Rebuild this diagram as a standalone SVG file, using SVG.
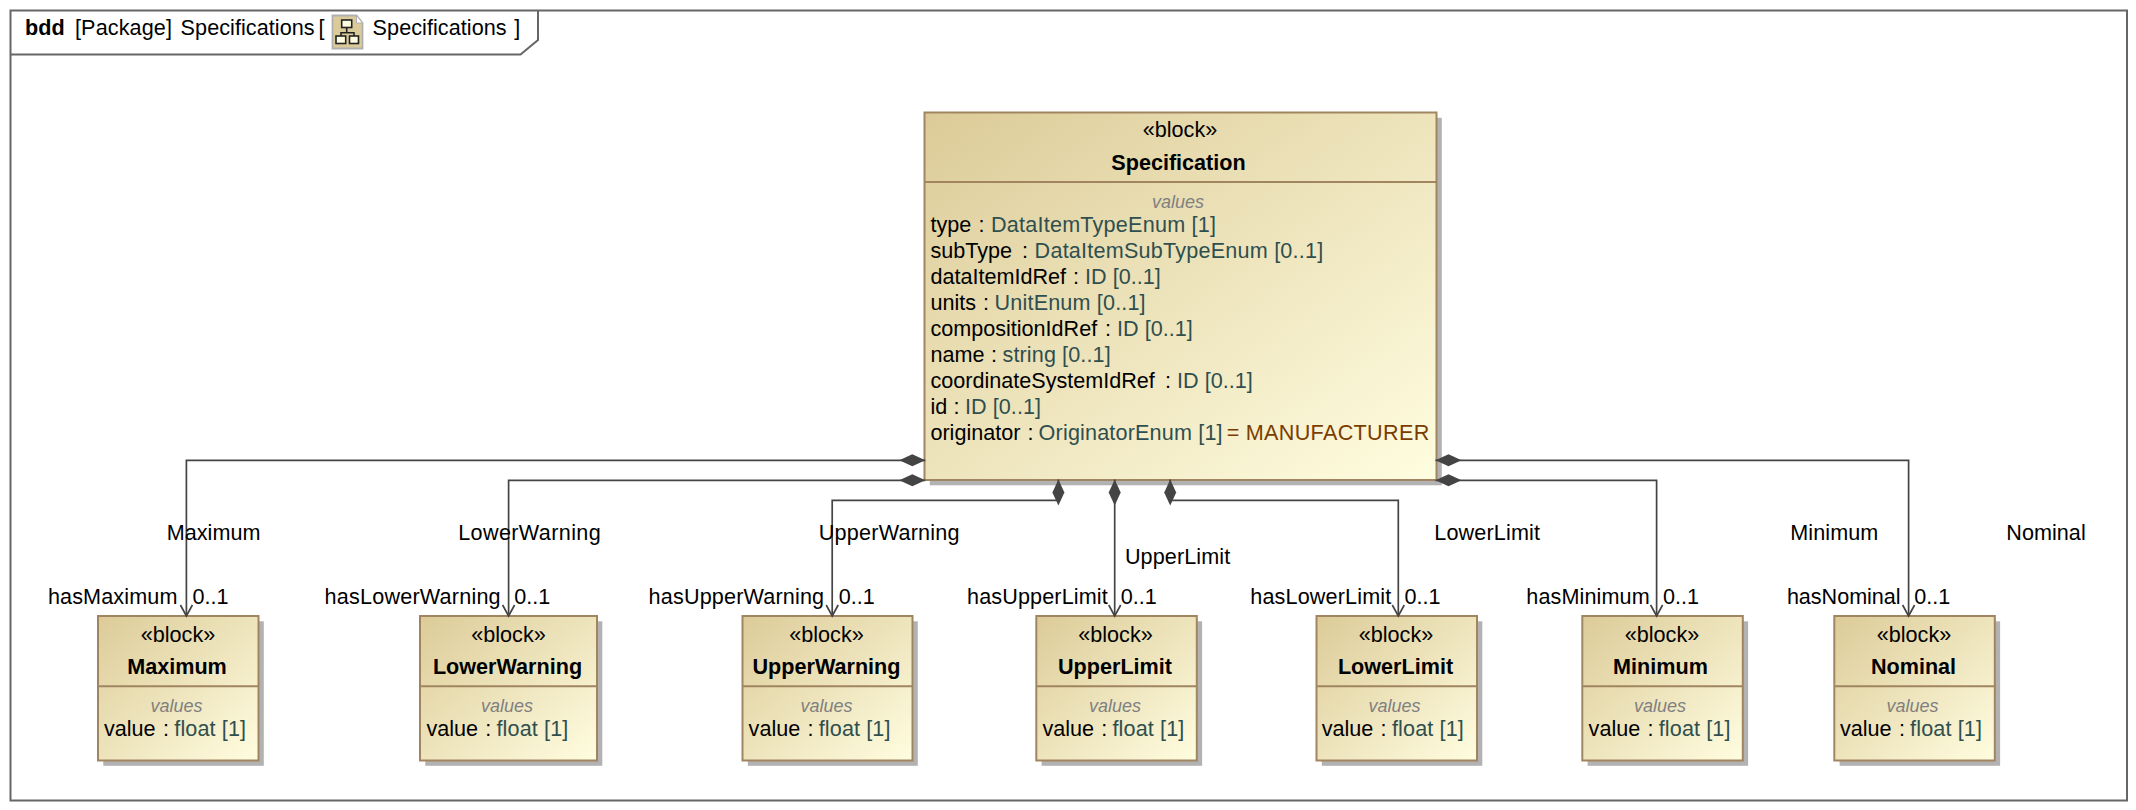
<svg xmlns="http://www.w3.org/2000/svg" width="2136" height="810" viewBox="0 0 2136 810">
<style>
text{font-family:"Liberation Sans",Arial,sans-serif;font-size:21.6px;fill:#000}
.b{font-weight:bold}
.m{text-anchor:middle}
.v{font-style:italic;font-size:18px;fill:#808080;text-anchor:middle}
.t{fill:#2f4f4f}
.i{fill:#7a3d00}
.fr{fill:none;stroke:#666;stroke-width:2}
.box{fill:url(#g);stroke:#a08560;stroke-width:2}
.sep{stroke:#a08560;stroke-width:2}
.sh{fill:#b2b2b2}
.c{fill:none;stroke:#444;stroke-width:1.700;marker-start:url(#dia);marker-end:url(#arr)}
.ic{fill:#fffde0;stroke:#222;stroke-width:1.600}
</style>
<defs>
<linearGradient id="g" x1="0" y1="0" x2="1" y2="1"><stop offset="0" stop-color="#dccb98"/><stop offset="1" stop-color="#fffde0"/></linearGradient>
<marker id="dia" markerUnits="userSpaceOnUse" viewBox="-1 -7 28 14" refX="0" refY="0" markerWidth="28" markerHeight="14" orient="auto"><path d="M0 0L13-6 26 0 13 6Z" fill="#444"/></marker>
<marker id="arr" markerUnits="userSpaceOnUse" viewBox="-12 -7 14 14" refX="0" refY="0" markerWidth="14" markerHeight="14" orient="auto"><path d="M-11-6L0 0-11 6" fill="none" stroke="#444" stroke-width="1.700"/></marker>
</defs>
<rect width="2136" height="810" fill="#fff"/>
<g id="frame">
<rect class="fr" x="10.500" y="10.500" width="2116.500" height="790"/>
<path class="fr" d="M10.500 54.500H520.500L538 40V10.500"/>
<g id="frame-icon">
<path d="M332.500 15.500H356.500L362.500 23V48.500H332.500Z" fill="#dccb9a" stroke="#b0b0b0" stroke-width="1.800"/>
<path d="M356.500 15.500V23H362.500Z" fill="#fff" stroke="#b0b0b0"/>
<path d="M346.700 27.500V32.700M341 36V32.700H354V36" fill="none" stroke="#222" stroke-width="1.600"/>
<rect class="ic" x="341.700" y="20" width="10" height="7.500"/>
<rect class="ic" x="336" y="36" width="9.700" height="7.500"/>
<rect class="ic" x="349.500" y="36" width="9" height="7.500"/>
</g>
<text class="b" x="25" y="35">bdd</text>
<text x="75" y="35" textLength="97">[Package]</text>
<text x="180.600" y="35" textLength="134">Specifications</text>
<text x="318.400" y="35">[</text>
<text x="372.600" y="35" textLength="134">Specifications</text>
<text x="514.300" y="35">]</text>
</g>
<g id="Specification">
<rect class="sh" x="929.800" y="117.800" width="512" height="367.500"/>
<rect class="box" x="924.500" y="112.500" width="512" height="367.500"/>
<line class="sep" x1="924.500" y1="182" x2="1436.500" y2="182"/>
<text class="m" x="1180" y="137">«block»</text>
<text class="m b" x="1178.500" y="169.500">Specification</text>
<text class="v" x="1178" y="208">values</text>
<text x="930.400" y="231.700">type<tspan x="978.600">:</tspan><tspan class="t" x="991" textLength="225">DataItemTypeEnum [1]</tspan></text>
<text x="930.400" y="257.700">subType<tspan x="1022">:</tspan><tspan class="t" x="1034.600" textLength="288.600">DataItemSubTypeEnum [0..1]</tspan></text>
<text x="930.400" y="283.700">dataItemIdRef<tspan x="1073">:</tspan><tspan class="t" x="1085" textLength="75.700">ID [0..1]</tspan></text>
<text x="930.400" y="309.700">units<tspan x="983">:</tspan><tspan class="t" x="994.600" textLength="151">UnitEnum [0..1]</tspan></text>
<text x="930.400" y="335.700">compositionIdRef<tspan x="1105">:</tspan><tspan class="t" x="1117" textLength="75.700">ID [0..1]</tspan></text>
<text x="930.400" y="361.700">name<tspan x="991">:</tspan><tspan class="t" x="1002.500" textLength="108.200">string [0..1]</tspan></text>
<text x="930.400" y="387.700">coordinateSystemIdRef<tspan x="1165">:</tspan><tspan class="t" x="1177" textLength="75.700">ID [0..1]</tspan></text>
<text x="930.400" y="413.700">id<tspan x="953.600">:</tspan><tspan class="t" x="965" textLength="76">ID [0..1]</tspan></text>
<text x="930.400" y="439.700">originator<tspan x="1027.500">:</tspan><tspan class="t" x="1038.600" textLength="184">OriginatorEnum [1]</tspan><tspan class="i" x="1226.800">=</tspan><tspan class="i" x="1245.700" textLength="183.600">MANUFACTURER</tspan></text>
</g>
<g id="Maximum">
<rect class="sh" x="103.300" y="621.300" width="160.500" height="144.500"/>
<rect class="box" x="98" y="616" width="160.500" height="144.500"/>
<line class="sep" x1="98" y1="686.300" x2="258.500" y2="686.300"/>
<text class="m" x="178" y="642">«block»</text>
<text class="m b" x="177" y="673.500">Maximum</text>
<text class="v" x="176.500" y="711.700">values</text>
<text x="104" y="735.700">value<tspan x="163">:</tspan><tspan class="t" x="174.300" textLength="71.800">float [1]</tspan></text>
</g>
<g id="LowerWarning">
<rect class="sh" x="425.300" y="621.300" width="177" height="144.500"/>
<rect class="box" x="420" y="616" width="177" height="144.500"/>
<line class="sep" x1="420" y1="686.300" x2="597" y2="686.300"/>
<text class="m" x="508.500" y="642">«block»</text>
<text class="m b" x="507.500" y="673.500">LowerWarning</text>
<text class="v" x="507" y="711.700">values</text>
<text x="426.400" y="735.700">value<tspan x="485.300">:</tspan><tspan class="t" x="496.500" textLength="71.800">float [1]</tspan></text>
</g>
<g id="UpperWarning">
<rect class="sh" x="747.800" y="621.300" width="170" height="144.500"/>
<rect class="box" x="742.500" y="616" width="170" height="144.500"/>
<line class="sep" x1="742.500" y1="686.300" x2="912.500" y2="686.300"/>
<text class="m" x="826.500" y="642">«block»</text>
<text class="m b" x="826.500" y="673.500">UpperWarning</text>
<text class="v" x="826.500" y="711.700">values</text>
<text x="748.600" y="735.700">value<tspan x="807.500">:</tspan><tspan class="t" x="818.700" textLength="71.800">float [1]</tspan></text>
</g>
<g id="UpperLimit">
<rect class="sh" x="1041.600" y="621.300" width="160.500" height="144.500"/>
<rect class="box" x="1036.300" y="616" width="160.500" height="144.500"/>
<line class="sep" x1="1036.300" y1="686.300" x2="1196.800" y2="686.300"/>
<text class="m" x="1115.500" y="642">«block»</text>
<text class="m b" x="1115" y="673.500">UpperLimit</text>
<text class="v" x="1115" y="711.700">values</text>
<text x="1042.400" y="735.700">value<tspan x="1101.300">:</tspan><tspan class="t" x="1112.500" textLength="71.800">float [1]</tspan></text>
</g>
<g id="LowerLimit">
<rect class="sh" x="1321.800" y="621.300" width="160.500" height="144.500"/>
<rect class="box" x="1316.500" y="616" width="160.500" height="144.500"/>
<line class="sep" x1="1316.500" y1="686.300" x2="1477" y2="686.300"/>
<text class="m" x="1396" y="642">«block»</text>
<text class="m b" x="1395.500" y="673.500">LowerLimit</text>
<text class="v" x="1394.500" y="711.700">values</text>
<text x="1321.700" y="735.700">value<tspan x="1380.600">:</tspan><tspan class="t" x="1392" textLength="71.800">float [1]</tspan></text>
</g>
<g id="Minimum">
<rect class="sh" x="1587.600" y="621.300" width="160.500" height="144.500"/>
<rect class="box" x="1582.300" y="616" width="160.500" height="144.500"/>
<line class="sep" x1="1582.300" y1="686.300" x2="1742.800" y2="686.300"/>
<text class="m" x="1662" y="642">«block»</text>
<text class="m b" x="1660.500" y="673.500">Minimum</text>
<text class="v" x="1660" y="711.700">values</text>
<text x="1588.600" y="735.700">value<tspan x="1647.500">:</tspan><tspan class="t" x="1658.700" textLength="71.800">float [1]</tspan></text>
</g>
<g id="Nominal">
<rect class="sh" x="1839.600" y="621.300" width="160.500" height="144.500"/>
<rect class="box" x="1834.300" y="616" width="160.500" height="144.500"/>
<line class="sep" x1="1834.300" y1="686.300" x2="1994.800" y2="686.300"/>
<text class="m" x="1914" y="642">«block»</text>
<text class="m b" x="1913.500" y="673.500">Nominal</text>
<text class="v" x="1912.500" y="711.700">values</text>
<text x="1840" y="735.700">value<tspan x="1898.900">:</tspan><tspan class="t" x="1910.100" textLength="71.800">float [1]</tspan></text>
</g>
<g id="connectors">
<path class="c" d="M925.300 460.300H186.400V616"/>
<path class="c" d="M925.300 480.300H508.600V616"/>
<path class="c" d="M1058.400 479.500V500.300H832.200V616"/>
<path class="c" d="M1114.700 479.500V616"/>
<path class="c" d="M1170.200 479.500V500.300H1398.300V616"/>
<path class="c" d="M1435.500 480.300H1656.600V616"/>
<path class="c" d="M1435.500 460.300H1908.600V616"/>
<g id="connector-labels">
<text x="166.800" y="540">Maximum</text>
<text x="458.200" y="540" textLength="142.500">LowerWarning</text>
<text x="818.800" y="540" textLength="140.800">UpperWarning</text>
<text x="1124.900" y="564" textLength="105.300">UpperLimit</text>
<text x="1434.300" y="540" textLength="105.700">LowerLimit</text>
<text x="1790.300" y="540" textLength="88">Minimum</text>
<text x="2006.300" y="540" textLength="79.400">Nominal</text>
<text x="47.900" y="604" textLength="129.600">hasMaximum</text><text x="192.500" y="604">0..1</text>
<text x="324.600" y="604" textLength="176">hasLowerWarning</text><text x="514.300" y="604">0..1</text>
<text x="648.600" y="604" textLength="175.500">hasUpperWarning</text><text x="838.800" y="604">0..1</text>
<text x="967" y="604" textLength="140.800">hasUpperLimit</text><text x="1120.800" y="604">0..1</text>
<text x="1250.300" y="604" textLength="141">hasLowerLimit</text><text x="1404.600" y="604">0..1</text>
<text x="1526.300" y="604" textLength="123.400">hasMinimum</text><text x="1662.900" y="604">0..1</text>
<text x="1786.900" y="604" textLength="113.700">hasNominal</text><text x="1914.300" y="604">0..1</text>
</g>
</g>
</svg>
